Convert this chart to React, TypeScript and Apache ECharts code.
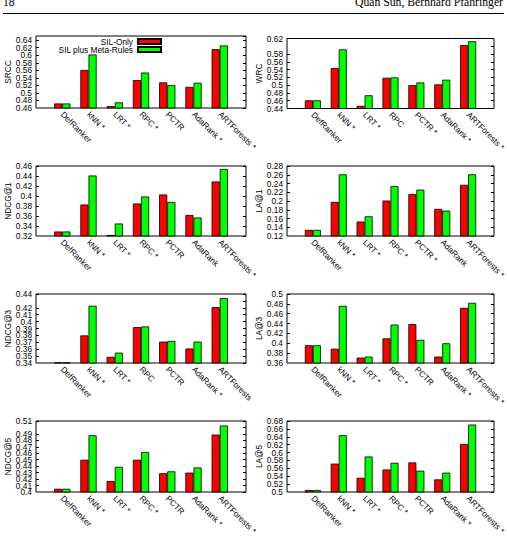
import React, { useEffect, useRef } from 'react';
import * as echarts from 'echarts';

// Method names per panel; " *" marks a significant improvement.
const srccLabels = ['DefRanker', 'kNN *', 'LRT *', 'RPC *', 'PCTR', 'AdaRank *', 'ARTForests *'];
const wrcLabels = ['DefRanker', 'kNN *', 'LRT *', 'RPC', 'PCTR *', 'AdaRank *', 'ARTForests *'];
const ndcg1Labels = ['DefRanker', 'kNN *', 'LRT *', 'RPC *', 'PCTR', 'AdaRank', 'ARTForests *'];
const la1Labels = ['DefRanker', 'kNN *', 'LRT *', 'RPC *', 'PCTR *', 'AdaRank', 'ARTForests *'];
const ndcg3Labels = ['DefRanker', 'kNN *', 'LRT *', 'RPC', 'PCTR', 'AdaRank *', 'ARTForests'];
const la3Labels = ['DefRanker', 'kNN *', 'LRT *', 'RPC *', 'PCTR', 'AdaRank *', 'ARTForests *'];
const ndcg5Labels = ['DefRanker', 'kNN *', 'LRT *', 'RPC *', 'PCTR', 'AdaRank *', 'ARTForests *'];
const la5Labels = ['DefRanker', 'kNN *', 'LRT *', 'RPC *', 'PCTR', 'AdaRank *', 'ARTForests *'];

// Scores: SIL-Only vs SIL plus Meta-Rules
const srccSilOnly = [0.472, 0.561, 0.465, 0.534, 0.528, 0.516, 0.616];
const srccMetaRules = [0.472, 0.602, 0.475, 0.554, 0.521, 0.527, 0.626];
const wrcSilOnly = [0.461, 0.544, 0.447, 0.519, 0.5, 0.502, 0.603];
const wrcMetaRules = [0.461, 0.592, 0.474, 0.52, 0.507, 0.514, 0.613];
const ndcg1SilOnly = [0.329, 0.383, 0.322, 0.385, 0.403, 0.362, 0.429];
const ndcg1MetaRules = [0.329, 0.441, 0.345, 0.399, 0.388, 0.357, 0.454];
const la1SilOnly = [0.134, 0.198, 0.153, 0.201, 0.216, 0.182, 0.237];
const la1MetaRules = [0.134, 0.261, 0.165, 0.234, 0.226, 0.178, 0.261];
const ndcg3SilOnly = [0.341, 0.38, 0.349, 0.392, 0.371, 0.361, 0.421];
const ndcg3MetaRules = [0.341, 0.423, 0.355, 0.393, 0.372, 0.371, 0.434];
const la3SilOnly = [0.396, 0.389, 0.371, 0.41, 0.439, 0.373, 0.472];
const la3MetaRules = [0.396, 0.476, 0.373, 0.438, 0.407, 0.4, 0.482];
const ndcg5SilOnly = [0.405, 0.45, 0.417, 0.45, 0.429, 0.43, 0.489];
const ndcg5MetaRules = [0.405, 0.488, 0.439, 0.462, 0.432, 0.438, 0.503];
const la5SilOnly = [0.505, 0.572, 0.536, 0.557, 0.575, 0.532, 0.622];
const la5MetaRules = [0.505, 0.644, 0.59, 0.574, 0.554, 0.549, 0.671];

const SERIES_A = 'SIL-Only';
const SERIES_B = 'SIL plus Meta-Rules';

const FONT = "'Liberation Sans', Arial, Helvetica, sans-serif";
const SERIF = "'Liberation Serif', 'Times New Roman', serif";
const FS = 8.3;

type Panel = {
  name: string;
  labels: string[];
  a: number[];
  b: number[];
  min: number;
  max: number;
  interval: number;
  box: { left: number; top: number; width: number; height: number };
  nameGap: number;
};

const panels: Panel[] = [
  { name: 'SRCC', labels: srccLabels, a: srccSilOnly, b: srccMetaRules, min: 0.46, max: 0.651, interval: 0.02,
    box: { left: 36, top: 36, width: 210, height: 72 }, nameGap: 24 },
  { name: 'WRC', labels: wrcLabels, a: wrcSilOnly, b: wrcMetaRules, min: 0.44, max: 0.62, interval: 0.02,
    box: { left: 287, top: 38.5, width: 207, height: 70 }, nameGap: 22 },
  { name: 'NDCG@1', labels: ndcg1Labels, a: ndcg1SilOnly, b: ndcg1MetaRules, min: 0.32, max: 0.46, interval: 0.02,
    box: { left: 36, top: 166, width: 210, height: 70 }, nameGap: 23 },
  { name: 'LA@1', labels: la1Labels, a: la1SilOnly, b: la1MetaRules, min: 0.12, max: 0.28, interval: 0.02,
    box: { left: 287, top: 166, width: 207, height: 70 }, nameGap: 22 },
  { name: 'NDCG@3', labels: ndcg3Labels, a: ndcg3SilOnly, b: ndcg3MetaRules, min: 0.34, max: 0.44, interval: 0.01,
    box: { left: 36, top: 294, width: 210, height: 69 }, nameGap: 23 },
  { name: 'LA@3', labels: la3Labels, a: la3SilOnly, b: la3MetaRules, min: 0.36, max: 0.5, interval: 0.02,
    box: { left: 287, top: 294, width: 207, height: 69 }, nameGap: 22 },
  { name: 'NDCG@5', labels: ndcg5Labels, a: ndcg5SilOnly, b: ndcg5MetaRules, min: 0.4, max: 0.51, interval: 0.01,
    box: { left: 36, top: 421, width: 210, height: 71 }, nameGap: 23 },
  { name: 'LA@5', labels: la5Labels, a: la5SilOnly, b: la5MetaRules, min: 0.5, max: 0.68, interval: 0.02,
    box: { left: 287, top: 421, width: 207, height: 71 }, nameGap: 22 },
];

const textBase = { fontSize: FS, fontFamily: FONT, color: '#000' };
const tickStyle = { show: true, inside: true, length: 3, lineStyle: { color: '#000', width: 1 } };

function buildOption(): echarts.EChartsOption {
  const grid = panels.map((p) => ({
    ...p.box,
    show: true,
    borderColor: '#000',
    borderWidth: 1,
    backgroundColor: 'transparent',
    containLabel: false,
    outerBoundsMode: 'none',
  }));

  const xAxis = panels.map((p, i) => ({
    type: 'category',
    gridIndex: i,
    // empty slots pad one band on each side of the seven methods
    data: ['', ...p.labels, ''],
    boundaryGap: false,
    axisLine: { show: false },
    axisTick: { show: false },
    splitLine: { show: false },
    axisLabel: { ...textBase, interval: 0, rotate: -45, margin: 5, hideOverlap: false },
  }));

  const yAxis: any[] = [];
  panels.forEach((p, i) => {
    const onTick = Math.abs(p.max / p.interval - Math.round(p.max / p.interval)) < 1e-6;
    const scale = { type: 'value', gridIndex: i, min: p.min, max: p.max, interval: p.interval };
    // main left axis: name, ticks and all labels above the minimum
    yAxis.push({
      ...scale,
      position: 'left',
      name: p.name,
      nameLocation: 'middle',
      nameGap: p.nameGap,
      nameRotate: 90,
      nameTextStyle: { ...textBase },
      axisLine: { show: false },
      axisTick: tickStyle,
      axisLabel: { ...textBase, margin: 4, showMaxLabel: onTick, showMinLabel: false, hideOverlap: false },
      splitLine: { show: false },
    });
    // mirrored tick marks on the right side of the frame
    yAxis.push({
      ...scale,
      position: 'right',
      axisLine: { show: false },
      axisTick: tickStyle,
      axisLabel: { show: false },
      splitLine: { show: false },
    });
    // the minimum's label, on its own so the packed neighbour is kept
    yAxis.push({
      ...scale,
      position: 'left',
      axisLine: { show: false },
      axisTick: { show: false },
      axisLabel: {
        ...textBase,
        margin: 4,
        showMinLabel: true,
        showMaxLabel: false,
        hideOverlap: false,
        formatter: (v: number) => (Math.abs(v - p.min) < 1e-9 ? String(p.min) : ''),
      },
      splitLine: { show: false },
    });
  });

  const series: any[] = [];
  panels.forEach((p, i) => {
    series.push({
      type: 'bar',
      name: SERIES_A,
      xAxisIndex: i,
      yAxisIndex: 3 * i,
      data: ['-', ...p.a, '-'],
      barWidth: '31%',
      barGap: '0%',
      silent: true,
      itemStyle: { color: '#ff0000', borderColor: '#000', borderWidth: 0.8 },
    });
    series.push({
      type: 'bar',
      name: SERIES_B,
      xAxisIndex: i,
      yAxisIndex: 3 * i,
      data: ['-', ...p.b, '-'],
      barWidth: '31%',
      barGap: '0%',
      silent: true,
      itemStyle: { color: '#00ff00', borderColor: '#000', borderWidth: 0.8 },
    });
  });

  const legendBase = {
    orient: 'horizontal',
    align: 'right',
    right: 345,
    itemWidth: 23,
    itemHeight: 5,
    itemGap: 0,
    padding: 0,
    icon: 'rect',
    selectedMode: false,
    textStyle: { ...textBase, padding: [0, 0, 0, 0] },
  };

  return {
    animation: false,
    backgroundColor: '#fff',
    grid,
    xAxis,
    yAxis,
    series,
    legend: [
      { ...legendBase, data: [SERIES_A], top: 37.5 },
      { ...legendBase, data: [SERIES_B], top: 45.5 },
    ],
    graphic: [
      { type: 'text', x: 3, y: 2.7, style: { text: '18', font: `11.7px ${SERIF}`, fill: '#000', align: 'left', verticalAlign: 'middle' } },
      { type: 'text', x: 503, y: 2.7, style: { text: 'Quan Sun, Bernhard Pfahringer', font: `11.7px ${SERIF}`, fill: '#000', align: 'right', verticalAlign: 'middle' } },
      { type: 'line', shape: { x1: 3, y1: 13.5, x2: 504, y2: 13.5 }, style: { stroke: '#000', lineWidth: 1 } },
    ],
  } as any;
}

export default function App() {
  const ref = useRef<HTMLDivElement>(null);
  useEffect(() => {
    const chart = echarts.init(ref.current!, null, { renderer: 'svg' });
    chart.setOption(buildOption());
    return () => chart.dispose();
  }, []);
  return (
    <div
      ref={ref}
      style={{ position: 'fixed', left: 0, top: 0, width: 507, height: 544, background: '#fff' }}
    />
  );
}
